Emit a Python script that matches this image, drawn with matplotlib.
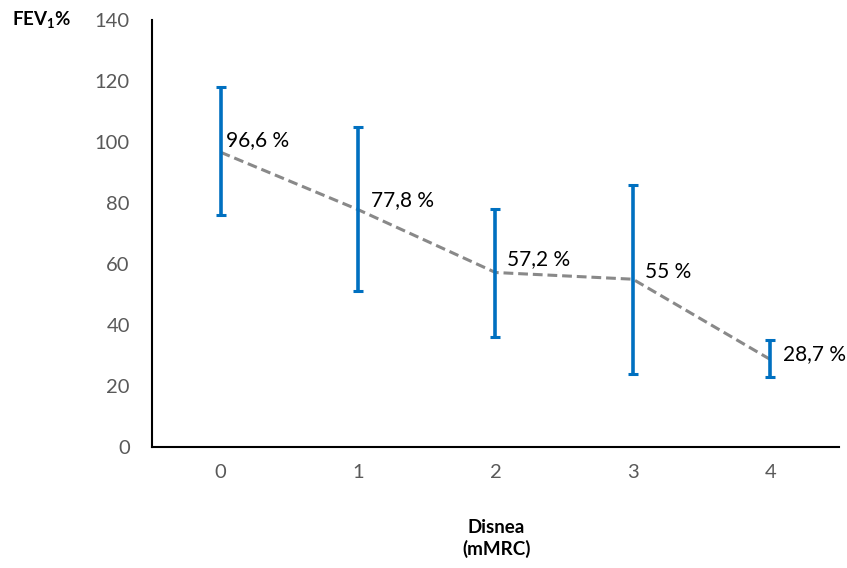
import numpy as np
import matplotlib
matplotlib.use("Agg")
import matplotlib.pyplot as plt

plt.rcParams['font.family'] = ['Lato', 'DejaVu Sans']
plt.rcParams['mathtext.fontset'] = 'custom'
plt.rcParams['mathtext.rm'] = 'Lato'
plt.rcParams['mathtext.bf'] = 'Lato:bold'

# Daten
disnea = [0, 1, 2, 3, 4]
fev1 = [96.6, 77.8, 57.2, 55.0, 28.7]
err_low = [76, 51, 36, 24, 23]
err_high = [118, 105, 78, 86, 35]
labels = ["96,6 %", "77,8 %", "57,2 %", "55 %", "28,7 %"]
y_ticks = [0, 20, 40, 60, 80, 100, 120, 140]

fev1 = np.array(fev1)
yerr = np.array([fev1 - np.array(err_low), np.array(err_high) - fev1])

fig = plt.figure(figsize=(8.47, 5.68), dpi=100)
ax = fig.add_axes([0.1795, 0.213, 0.811, 0.752])

ax.plot(disnea, fev1, color="#898989", linestyle=(0, (3.2, 1.6)), linewidth=2.2, zorder=2)
ax.errorbar(disnea, fev1, yerr=yerr, fmt="none", ecolor="#0070C0",
            elinewidth=2.6, capsize=3.5, capthick=2.2, zorder=3)

# Beschriftung der Punkte
offsets = [(3.6, 9), (9, 7), (8, 10), (9, 5), (9.5, 3.5)]
for x, y, t, off in zip(disnea, fev1, labels, offsets):
    ax.annotate(t, (x, y), xytext=off, textcoords="offset points",
                fontsize=15, color="black", ha="left", va="center")

ax.set_xlim(-0.5, 4.5)
ax.set_ylim(0, 140)
ax.set_xticks(disnea)
ax.set_yticks(y_ticks)
ax.tick_params(axis="both", length=0, labelsize=14.5, labelcolor="#595959")
ax.tick_params(axis="y", pad=16)
ax.tick_params(axis="x", pad=12)
for s in ["top", "right"]:
    ax.spines[s].set_visible(False)
for s in ["left", "bottom"]:
    ax.spines[s].set_linewidth(1.5)
    ax.spines[s].set_color("black")

fig.text(0.014, 0.965, r"FEV$_\mathbf{1}$%", fontsize=13.5, fontweight="bold",
         ha="left", va="center")
fig.text(0.586, 0.052, "Disnea\n(mMRC)", fontsize=13.5, fontweight="bold",
         ha="center", va="center", linespacing=1.3)

fig.savefig("out.png", dpi=100)
